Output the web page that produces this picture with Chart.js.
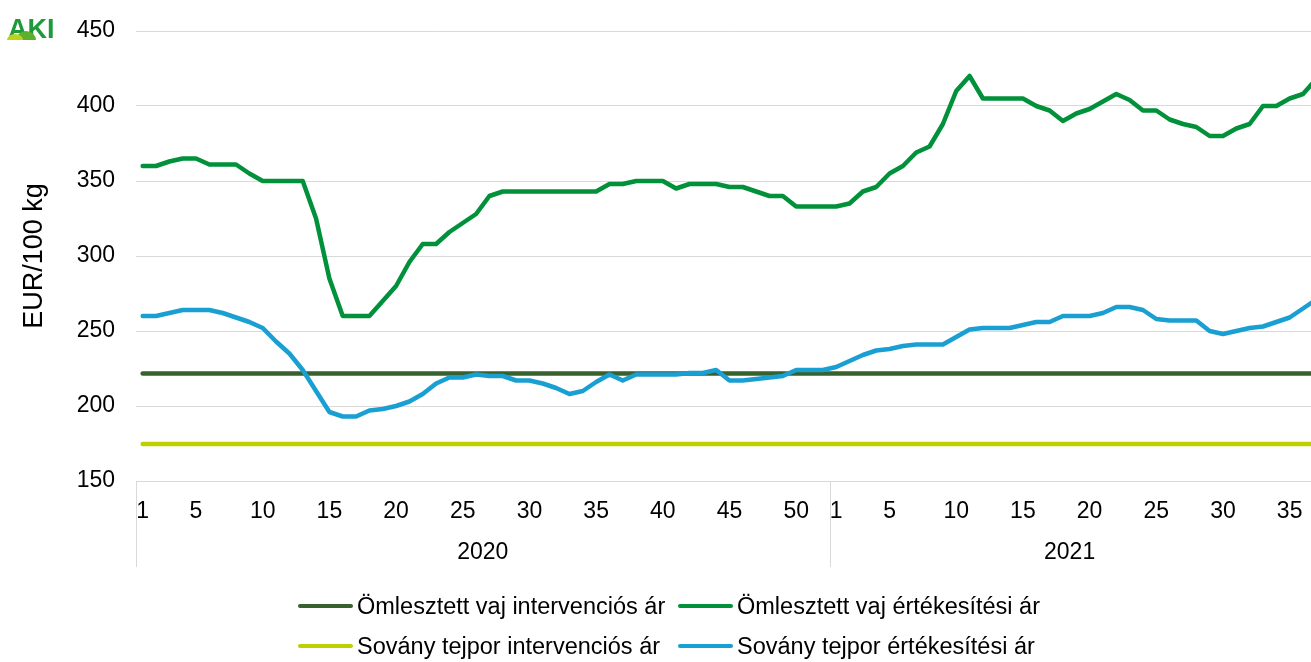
<!DOCTYPE html>
<html>
<head>
<meta charset="utf-8">
<script src="https://cdn.jsdelivr.net/npm/chart.js@4.4.0/dist/chart.umd.min.js"></script>
<style>
  html, body { margin: 0; padding: 0; background: #fff; }
  #wrap { position: relative; width: 1311px; height: 662px; overflow: hidden; }
  #legend {
    position: absolute; left: 298px; top: 586px;
    display: grid; grid-template-columns: 380px auto;
    font-family: "Liberation Sans", Arial, sans-serif; font-size: 23.5px; color: #000;
  }
  .item { display: flex; align-items: center; height: 40px; white-space: nowrap; }
  .swatch { width: 55px; height: 4.5px; border-radius: 3px; margin-right: 4px; }
</style>
</head>
<body>
<div id="wrap">
  <!-- a vászon egy hétnyivel szélesebb: a 37. hét a kép szélén túl van -->
  <canvas id="chart" width="1323" height="662"></canvas>
  <div id="legend"></div>
</div>
<script>
// heti árak, EUR/100 kg
const years = ["2020", "2021"];
const weeks2020 = [1, 2, 3, 4, 5, 6, 7, 8, 9, 10, 11, 12, 13, 14, 15, 16, 17, 18, 19, 20, 21, 22, 23, 24, 25, 26,
  27, 28, 29, 30, 31, 32, 33, 34, 35, 36, 37, 38, 39, 40, 41, 42, 43, 44, 45, 46, 47, 48, 49, 50, 51, 52];
const weeks2021 = [1, 2, 3, 4, 5, 6, 7, 8, 9, 10, 11, 12, 13, 14, 15, 16, 17, 18, 19, 20, 21, 22, 23, 24, 25, 26,
  27, 28, 29, 30, 31, 32, 33, 34, 35, 36, 37];

const butterSales2020 = [360, 360, 363, 365, 365, 361, 361, 361, 355, 350, 350, 350, 350, 325, 285, 260, 260, 260,
  270, 280, 296, 308, 308, 316, 322, 328, 340, 343, 343, 343, 343, 343, 343, 343, 343, 348, 348, 350, 350, 350,
  345, 348, 348, 348, 346, 346, 343, 340, 340, 333, 333, 333];
const butterSales2021 = [333, 335, 343, 346, 355, 360, 369, 373, 388, 410, 420, 405, 405, 405, 405, 400, 397, 390,
  395, 398, 403, 408, 404, 397, 397, 391, 388, 386, 380, 380, 385, 388, 400, 400, 405, 408, 418];
const smpSales2020 = [260, 260, 262, 264, 264, 264, 262, 259, 256, 252, 243, 235, 224, 210, 196, 193, 193, 197,
  198, 200, 203, 208, 215, 219, 219, 221, 220, 220, 217, 217, 215, 212, 208, 210, 216, 221, 217, 221, 221, 221,
  221, 222, 222, 224, 217, 217, 218, 219, 220, 224, 224, 224];
const smpSales2021 = [226, 230, 234, 237, 238, 240, 241, 241, 241, 246, 251, 252, 252, 252, 254, 256, 256, 260,
  260, 260, 262, 266, 266, 264, 258, 257, 257, 257, 250, 248, 250, 252, 253, 256, 259, 265, 271];

const butterIntervention = 221.75;
const smpIntervention = 174.7;

const yMin = 150, yMax = 450, yStep = 50;

const labels = weeks2020.concat(weeks2021).map(String);
const lastShown = labels.length - 2;

const FONT = '"Liberation Sans", Arial, sans-serif';

const datasets = [
  { label: "Ömlesztett vaj intervenciós ár", data: labels.map(() => butterIntervention), borderColor: "#38622D", order: 3 },
  { label: "Ömlesztett vaj értékesítési ár", data: butterSales2020.concat(butterSales2021), borderColor: "#00913A", order: 1 },
  { label: "Sovány tejpor intervenciós ár", data: labels.map(() => smpIntervention), borderColor: "#BED000", order: 2 },
  { label: "Sovány tejpor értékesítési ár", data: smpSales2020.concat(smpSales2021), borderColor: "#1A9FD2", order: 0 },
];
datasets.forEach((d) => {
  d.borderWidth = 4.5;
  d.pointRadius = 0;
  d.tension = 0;
  d.borderCapStyle = "round";
  d.borderJoinStyle = "round";
  d.fill = false;
});

const yearAxis = {
  id: "yearAxis",
  afterDraw(chart) {
    const ctx = chart.ctx;
    const x = chart.scales.x;
    const half = (x.getPixelForValue(1) - x.getPixelForValue(0)) / 2;
    const edges = [
      x.getPixelForValue(0) - half,
      x.getPixelForValue(weeks2020.length) - half,
      x.getPixelForValue(lastShown) + half,
    ];
    ctx.save();
    ctx.strokeStyle = "#D9D9D9";
    ctx.lineWidth = 1;
    // bal szél és az évek közti elválasztó
    edges.slice(0, 2).forEach((px) => {
      const p = Math.round(px) + 0.5;
      ctx.beginPath();
      ctx.moveTo(p, x.top);
      ctx.lineTo(p, x.bottom);
      ctx.stroke();
    });
    ctx.fillStyle = "#000";
    ctx.font = "23px " + FONT;
    ctx.textAlign = "center";
    ctx.textBaseline = "middle";
    ctx.fillText(years[0], (edges[0] + edges[1]) / 2, x.top + 72);
    ctx.fillText(years[1], (edges[1] + edges[2]) / 2, x.top + 72);

    // AKI logo
    ctx.fillStyle = "#1E9A3A";
    ctx.font = "bold 27px " + FONT;
    ctx.textAlign = "left";
    ctx.textBaseline = "alphabetic";
    ctx.fillText("AKI", 8, 38);
    ctx.fillStyle = "#5DAF2E";
    ctx.beginPath();
    ctx.ellipse(26, 40, 10, 9, 0, Math.PI, 0);
    ctx.fill();
    ctx.fillStyle = "#BCD31E";
    ctx.beginPath();
    ctx.ellipse(15, 40, 8, 6, 0, Math.PI, 0);
    ctx.fill();
    ctx.restore();
  },
};

const chart = new Chart(document.getElementById("chart"), {
  type: "line",
  data: { labels: labels, datasets: datasets },
  plugins: [yearAxis],
  options: {
    responsive: false,
    animation: false,
    layout: { padding: { top: 31, bottom: 95, left: 0, right: 0 } },
    plugins: {
      legend: { display: false },
      tooltip: { enabled: false },
    },
    scales: {
      x: {
        type: "category",
        offset: true,
        grid: { display: false },
        border: { display: false },
        ticks: {
          autoSkip: false,
          maxRotation: 0,
          padding: 9,
          color: "#000",
          font: { family: FONT, size: 23 },
          callback: function (value) {
            if (value > lastShown) return "";
            const w = Number(this.getLabelForValue(value));
            return w === 1 || w % 5 === 0 ? String(w) : "";
          },
        },
        afterFit(scale) {
          scale.height = 86;
          scale.paddingLeft = 0;
          scale.paddingRight = 0;
        },
      },
      y: {
        min: yMin,
        max: yMax,
        ticks: { stepSize: yStep, padding: 21, color: "#000", font: { family: FONT, size: 23 } },
        grid: { color: "#D9D9D9", lineWidth: 1, drawTicks: false },
        border: { display: false },
        title: {
          display: true,
          text: "EUR/100 kg",
          color: "#000",
          font: { family: FONT, size: 27 },
          padding: { top: 18, bottom: 0 },
        },
        afterFit(scale) {
          scale.width = 136;
          scale.paddingTop = 0;
          scale.paddingBottom = 0;
        },
      },
    },
  },
});

// jelmagyarázat két oszlopban
const legendEl = document.getElementById("legend");
chart.data.datasets.forEach((d) => {
  const item = document.createElement("div");
  item.className = "item";
  const sw = document.createElement("span");
  sw.className = "swatch";
  sw.style.background = d.borderColor;
  const txt = document.createElement("span");
  txt.textContent = d.label;
  item.appendChild(sw);
  item.appendChild(txt);
  legendEl.appendChild(item);
});
</script>
</body>
</html>
